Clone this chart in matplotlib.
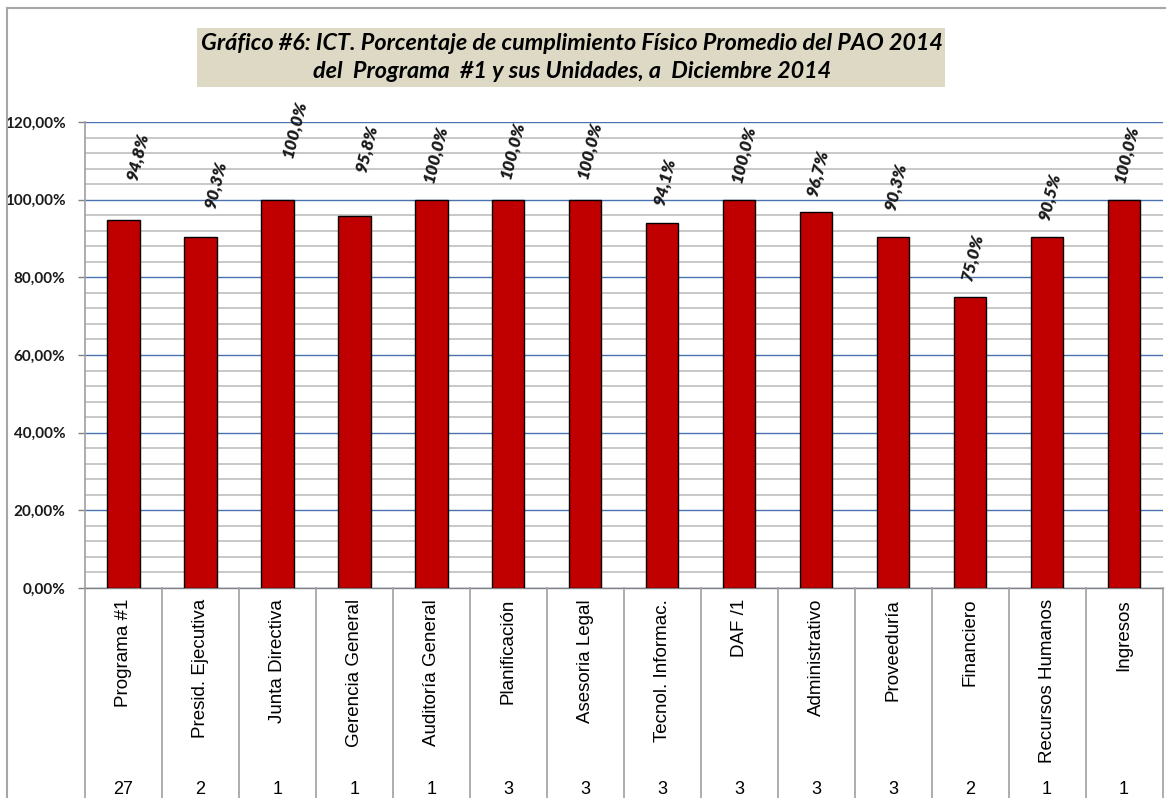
import matplotlib
matplotlib.use("Agg")
import matplotlib.pyplot as plt
from matplotlib.lines import Line2D
from matplotlib.patches import Rectangle
from matplotlib.ticker import MultipleLocator, FuncFormatter
import matplotlib.transforms as mtransforms

# ---- data ----
categories = ["Programa #1", "Presid. Ejecutiva", "Junta Directiva", "Gerencia General",
              "Auditoría General", "Planificación", "Asesoria Legal", "Tecnol. Informac.",
              "DAF /1", "Administrativo", "Proveeduría", "Financiero",
              "Recursos Humanos", "Ingresos"]
values = [94.8, 90.3, 100.0, 95.8, 100.0, 100.0, 100.0, 94.1, 100.0, 96.7, 90.3, 75.0, 90.5, 100.0]
counts = [27, 2, 1, 1, 1, 3, 3, 3, 3, 3, 3, 2, 1, 1]
title_lines = ["Gráfico #6: ICT. Porcentaje de cumplimiento Físico Promedio del PAO 2014",
               "del  Programa  #1 y sus Unidades, a  Diciembre 2014"]

# ---- style (label placement in pixels) ----
label_dx = [14, 15, 17, 12, 4, 4, 4, 3, 4, 2, 3, 3, 3, 2]
label_dy = [38, 27, 41, 42, 16, 20, 20, 15, 16, 14, 25, 15, 14, 16]

W, H = 1166, 798
fig = plt.figure(figsize=(W / 100, H / 100), dpi=100)
fig.patch.set_facecolor("white")

def fx(px):
    return px / W

def fy(py):
    return 1 - py / H

ax_l, ax_r, ax_t, ax_b = 85, 1162.5, 122, 588
ax = fig.add_axes([fx(ax_l), fy(ax_b), fx(ax_r - ax_l), (ax_b - ax_t) / H])
ax.set_facecolor("white")

x = list(range(len(categories)))
ax.bar(x, values, width=0.42, color="#c00000", edgecolor="black", linewidth=1.0, zorder=3)

ax.set_xlim(-0.5, len(categories) - 0.5)
ax.set_ylim(0, 120)
ax.yaxis.set_major_locator(MultipleLocator(20))
ax.yaxis.set_minor_locator(MultipleLocator(4))
ax.yaxis.set_major_formatter(FuncFormatter(lambda v, p: f"{v:.2f}".replace(".", ",") + "%"))
ax.grid(which="minor", axis="y", color="#c8c8c8", linewidth=1.4, zorder=1)
ax.grid(which="major", axis="y", color="#4a72b0", linewidth=1.0, zorder=2)
ax.set_xticks([])
ax.tick_params(axis="y", which="major", length=5, width=1, color="#808080", pad=9,
               labelsize=11, labelcolor="#1a1a1a")
ax.tick_params(axis="y", which="minor", length=0)
for lbl in ax.get_yticklabels():
    lbl.set_fontfamily("Lato")
    lbl.set_fontweight("bold")

for s in ["top", "right"]:
    ax.spines[s].set_visible(False)
ax.spines["left"].set_color("#a0a0a0")
ax.spines["bottom"].set_color("#808080")
ax.spines["left"].set_linewidth(1.2)
ax.spines["bottom"].set_linewidth(1.0)

# data labels
for i, v in enumerate(values):
    ax.annotate(f"{v:.1f}".replace(".", ",") + "%", xy=(i, v),
                xytext=(label_dx[i], label_dy[i]), textcoords="offset pixels",
                ha="center", va="bottom", rotation=76,
                fontsize=12.5, fontweight="heavy", fontstyle="italic",
                fontfamily="Lato", color="#1a1a1a", annotation_clip=False, zorder=5)

# category table below axis
trans = mtransforms.blended_transform_factory(ax.transData, fig.transFigure)
for i, (c, n) in enumerate(zip(categories, counts)):
    ax.text(i, fy(599), c, transform=trans, rotation=90, ha="center", va="top",
            fontsize=13.5, fontfamily="Liberation Sans", color="black", clip_on=False)
    ax.text(i, fy(781), str(n), transform=trans, ha="center", va="top",
            fontsize=13, fontfamily="Liberation Sans", color="black", clip_on=False)
for k in range(len(categories) + 1):
    xb = k - 0.5
    fig.add_artist(Line2D([xb, xb], [fy(ax_b), 0], transform=trans,
                          color="#a0a0a0", linewidth=1.2))

# outer frame
fig.add_artist(Line2D([fx(7), 1], [fy(8), fy(8)], color="#a6a6a6", linewidth=1.5))
fig.add_artist(Line2D([fx(7), fx(7)], [fy(8), 0], color="#a6a6a6", linewidth=1.5))

# title box
fig.add_artist(Rectangle((fx(197), fy(87)), fx(945 - 197), (87 - 28) / H,
                         transform=fig.transFigure, facecolor="#ddd9c4", edgecolor="none"))
fig.text(fx(572), fy(44), title_lines[0], ha="center", va="center", fontsize=16.8,
         fontweight="bold", fontstyle="italic", fontfamily="Lato", color="black")
fig.text(fx(572), fy(72), title_lines[1], ha="center", va="center", fontsize=16.8,
         fontweight="bold", fontstyle="italic", fontfamily="Lato", color="black")

fig.savefig("out.png", dpi=100)
